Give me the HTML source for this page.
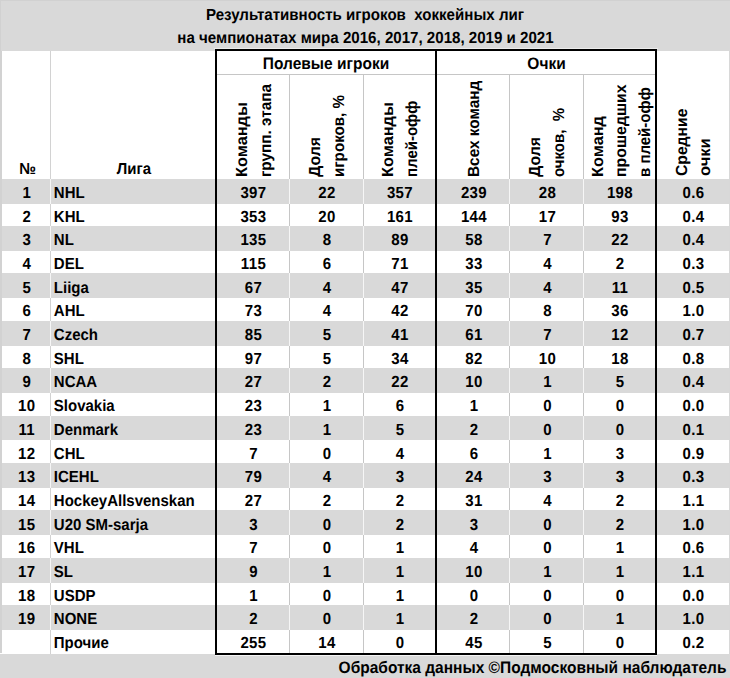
<!DOCTYPE html>
<html><head><meta charset="utf-8"><style>
html,body{margin:0;padding:0;background:#fff;}
body{width:730px;height:678px;position:relative;overflow:hidden;}
div{position:absolute;}
.t{text-rendering:geometricPrecision;font-family:"Liberation Sans",sans-serif;font-weight:bold;color:#000;white-space:pre;}
.r{transform-origin:0 0;transform:rotate(-90deg);font-size:15px;}
</style></head><body>
<div style="left:0px;top:0px;width:730px;height:51px;background:#d9d9d9;"></div>
<div class="t" style="left:0px;top:5.67px;width:730px;text-align:center;font-size:15.1px;line-height:20px;transform:scaleY(1.07);transform-origin:50% 15.23px;">Результативность игроков&nbsp; хоккейных лиг</div>
<div class="t" style="left:0.5px;top:28.57px;width:730px;text-align:center;font-size:15.1px;line-height:20px;transform:scaleY(1.07);transform-origin:50% 15.23px;">на чемпионатах мира 2016, 2017, 2018, 2019 и 2021</div>
<div style="left:0px;top:179px;width:730px;height:25px;background:#d9d9d9;"></div>
<div style="left:0px;top:226px;width:730px;height:25px;background:#d9d9d9;"></div>
<div style="left:0px;top:273px;width:730px;height:25px;background:#d9d9d9;"></div>
<div style="left:0px;top:321px;width:730px;height:25px;background:#d9d9d9;"></div>
<div style="left:0px;top:368px;width:730px;height:25px;background:#d9d9d9;"></div>
<div style="left:0px;top:416px;width:730px;height:24px;background:#d9d9d9;"></div>
<div style="left:0px;top:463px;width:730px;height:25px;background:#d9d9d9;"></div>
<div style="left:0px;top:510px;width:730px;height:25px;background:#d9d9d9;"></div>
<div style="left:0px;top:558px;width:730px;height:25px;background:#d9d9d9;"></div>
<div style="left:0px;top:605px;width:730px;height:25px;background:#d9d9d9;"></div>
<div style="left:0px;top:654px;width:730px;height:24px;background:#d9d9d9;"></div>
<div style="left:0px;top:51px;width:2px;height:602.0px;background:#d2d2d2;"></div>
<div style="left:50px;top:51px;width:1px;height:603.0px;background:#d2d2d2;"></div>
<div style="left:729px;top:51px;width:1px;height:603px;background:#d8d8d8;"></div>
<div style="left:289px;top:75px;width:1px;height:578.0px;background:#c6c6c6;"></div>
<div style="left:363px;top:75px;width:1px;height:578.0px;background:#c6c6c6;"></div>
<div style="left:509px;top:75px;width:1px;height:578.0px;background:#c6c6c6;"></div>
<div style="left:583px;top:75px;width:1px;height:578.0px;background:#c6c6c6;"></div>
<div style="left:217px;top:74px;width:218px;height:1px;background:#c6c6c6;"></div>
<div style="left:437px;top:74px;width:218px;height:1px;background:#c6c6c6;"></div>
<div style="left:50px;top:179px;width:1px;height:25px;background:#f6f6f6;"></div>
<div style="left:289px;top:179px;width:1px;height:25px;background:#f6f6f6;"></div>
<div style="left:363px;top:179px;width:1px;height:25px;background:#f6f6f6;"></div>
<div style="left:509px;top:179px;width:1px;height:25px;background:#f6f6f6;"></div>
<div style="left:583px;top:179px;width:1px;height:25px;background:#f6f6f6;"></div>
<div style="left:50px;top:226px;width:1px;height:25px;background:#f6f6f6;"></div>
<div style="left:289px;top:226px;width:1px;height:25px;background:#f6f6f6;"></div>
<div style="left:363px;top:226px;width:1px;height:25px;background:#f6f6f6;"></div>
<div style="left:509px;top:226px;width:1px;height:25px;background:#f6f6f6;"></div>
<div style="left:583px;top:226px;width:1px;height:25px;background:#f6f6f6;"></div>
<div style="left:50px;top:273px;width:1px;height:25px;background:#f6f6f6;"></div>
<div style="left:289px;top:273px;width:1px;height:25px;background:#f6f6f6;"></div>
<div style="left:363px;top:273px;width:1px;height:25px;background:#f6f6f6;"></div>
<div style="left:509px;top:273px;width:1px;height:25px;background:#f6f6f6;"></div>
<div style="left:583px;top:273px;width:1px;height:25px;background:#f6f6f6;"></div>
<div style="left:50px;top:321px;width:1px;height:25px;background:#f6f6f6;"></div>
<div style="left:289px;top:321px;width:1px;height:25px;background:#f6f6f6;"></div>
<div style="left:363px;top:321px;width:1px;height:25px;background:#f6f6f6;"></div>
<div style="left:509px;top:321px;width:1px;height:25px;background:#f6f6f6;"></div>
<div style="left:583px;top:321px;width:1px;height:25px;background:#f6f6f6;"></div>
<div style="left:50px;top:368px;width:1px;height:25px;background:#f6f6f6;"></div>
<div style="left:289px;top:368px;width:1px;height:25px;background:#f6f6f6;"></div>
<div style="left:363px;top:368px;width:1px;height:25px;background:#f6f6f6;"></div>
<div style="left:509px;top:368px;width:1px;height:25px;background:#f6f6f6;"></div>
<div style="left:583px;top:368px;width:1px;height:25px;background:#f6f6f6;"></div>
<div style="left:50px;top:416px;width:1px;height:24px;background:#f6f6f6;"></div>
<div style="left:289px;top:416px;width:1px;height:24px;background:#f6f6f6;"></div>
<div style="left:363px;top:416px;width:1px;height:24px;background:#f6f6f6;"></div>
<div style="left:509px;top:416px;width:1px;height:24px;background:#f6f6f6;"></div>
<div style="left:583px;top:416px;width:1px;height:24px;background:#f6f6f6;"></div>
<div style="left:50px;top:463px;width:1px;height:25px;background:#f6f6f6;"></div>
<div style="left:289px;top:463px;width:1px;height:25px;background:#f6f6f6;"></div>
<div style="left:363px;top:463px;width:1px;height:25px;background:#f6f6f6;"></div>
<div style="left:509px;top:463px;width:1px;height:25px;background:#f6f6f6;"></div>
<div style="left:583px;top:463px;width:1px;height:25px;background:#f6f6f6;"></div>
<div style="left:50px;top:510px;width:1px;height:25px;background:#f6f6f6;"></div>
<div style="left:289px;top:510px;width:1px;height:25px;background:#f6f6f6;"></div>
<div style="left:363px;top:510px;width:1px;height:25px;background:#f6f6f6;"></div>
<div style="left:509px;top:510px;width:1px;height:25px;background:#f6f6f6;"></div>
<div style="left:583px;top:510px;width:1px;height:25px;background:#f6f6f6;"></div>
<div style="left:50px;top:558px;width:1px;height:25px;background:#f6f6f6;"></div>
<div style="left:289px;top:558px;width:1px;height:25px;background:#f6f6f6;"></div>
<div style="left:363px;top:558px;width:1px;height:25px;background:#f6f6f6;"></div>
<div style="left:509px;top:558px;width:1px;height:25px;background:#f6f6f6;"></div>
<div style="left:583px;top:558px;width:1px;height:25px;background:#f6f6f6;"></div>
<div style="left:50px;top:605px;width:1px;height:25px;background:#f6f6f6;"></div>
<div style="left:289px;top:605px;width:1px;height:25px;background:#f6f6f6;"></div>
<div style="left:363px;top:605px;width:1px;height:25px;background:#f6f6f6;"></div>
<div style="left:509px;top:605px;width:1px;height:25px;background:#f6f6f6;"></div>
<div style="left:583px;top:605px;width:1px;height:25px;background:#f6f6f6;"></div>
<div style="left:0px;top:0px;width:730px;height:1px;background:#d1d1d1;"></div>
<div style="left:0px;top:0px;width:1px;height:51px;background:#d1d1d1;"></div>
<div style="left:214px;top:48px;width:444px;height:1px;background:#ececec;"></div>
<div style="left:215px;top:49px;width:222px;height:2px;background:#000;"></div>
<div style="left:215px;top:653px;width:222px;height:2px;background:#000;"></div>
<div style="left:215px;top:655px;width:222px;height:1px;background:#f4f4f4;"></div>
<div style="left:215px;top:49px;width:2px;height:606px;background:#000;"></div>
<div style="left:435px;top:49px;width:2px;height:606px;background:#000;"></div>
<div style="left:435px;top:49px;width:222px;height:2px;background:#000;"></div>
<div style="left:435px;top:653px;width:222px;height:2px;background:#000;"></div>
<div style="left:435px;top:655px;width:222px;height:1px;background:#f4f4f4;"></div>
<div style="left:435px;top:49px;width:2px;height:606px;background:#000;"></div>
<div style="left:655px;top:49px;width:2px;height:606px;background:#000;"></div>
<div class="t" style="left:3.1px;top:183.80px;width:47.4px;text-align:center;font-size:15px;line-height:20px;transform:scaleY(1.07);transform-origin:50% 15.20px;letter-spacing:0.4px;">1</div>
<div class="t" style="left:53.8px;top:183.80px;width:160px;text-align:left;font-size:15px;line-height:20px;transform:scaleY(1.07);transform-origin:50% 15.20px;">NHL</div>
<div class="t" style="left:217.5px;top:183.80px;width:72px;text-align:center;font-size:15px;line-height:20px;transform:scaleY(1.07);transform-origin:50% 15.20px;letter-spacing:0.4px;">397</div>
<div class="t" style="left:290.5px;top:183.80px;width:73px;text-align:center;font-size:15px;line-height:20px;transform:scaleY(1.07);transform-origin:50% 15.20px;letter-spacing:0.4px;">22</div>
<div class="t" style="left:364.5px;top:183.80px;width:71px;text-align:center;font-size:15px;line-height:20px;transform:scaleY(1.07);transform-origin:50% 15.20px;letter-spacing:0.4px;">357</div>
<div class="t" style="left:437.5px;top:183.80px;width:73px;text-align:center;font-size:15px;line-height:20px;transform:scaleY(1.07);transform-origin:50% 15.20px;letter-spacing:0.4px;">239</div>
<div class="t" style="left:511.5px;top:183.80px;width:72px;text-align:center;font-size:15px;line-height:20px;transform:scaleY(1.07);transform-origin:50% 15.20px;letter-spacing:0.4px;">28</div>
<div class="t" style="left:584.5px;top:183.80px;width:71px;text-align:center;font-size:15px;line-height:20px;transform:scaleY(1.07);transform-origin:50% 15.20px;letter-spacing:0.4px;">198</div>
<div class="t" style="left:657.5px;top:183.80px;width:72px;text-align:center;font-size:15px;line-height:20px;transform:scaleY(1.07);transform-origin:50% 15.20px;letter-spacing:0.4px;">0.6</div>
<div class="t" style="left:3.1px;top:207.50px;width:47.4px;text-align:center;font-size:15px;line-height:20px;transform:scaleY(1.07);transform-origin:50% 15.20px;letter-spacing:0.4px;">2</div>
<div class="t" style="left:53.8px;top:207.50px;width:160px;text-align:left;font-size:15px;line-height:20px;transform:scaleY(1.07);transform-origin:50% 15.20px;">KHL</div>
<div class="t" style="left:217.5px;top:207.50px;width:72px;text-align:center;font-size:15px;line-height:20px;transform:scaleY(1.07);transform-origin:50% 15.20px;letter-spacing:0.4px;">353</div>
<div class="t" style="left:290.5px;top:207.50px;width:73px;text-align:center;font-size:15px;line-height:20px;transform:scaleY(1.07);transform-origin:50% 15.20px;letter-spacing:0.4px;">20</div>
<div class="t" style="left:364.5px;top:207.50px;width:71px;text-align:center;font-size:15px;line-height:20px;transform:scaleY(1.07);transform-origin:50% 15.20px;letter-spacing:0.4px;">161</div>
<div class="t" style="left:437.5px;top:207.50px;width:73px;text-align:center;font-size:15px;line-height:20px;transform:scaleY(1.07);transform-origin:50% 15.20px;letter-spacing:0.4px;">144</div>
<div class="t" style="left:511.5px;top:207.50px;width:72px;text-align:center;font-size:15px;line-height:20px;transform:scaleY(1.07);transform-origin:50% 15.20px;letter-spacing:0.4px;">17</div>
<div class="t" style="left:584.5px;top:207.50px;width:71px;text-align:center;font-size:15px;line-height:20px;transform:scaleY(1.07);transform-origin:50% 15.20px;letter-spacing:0.4px;">93</div>
<div class="t" style="left:657.5px;top:207.50px;width:72px;text-align:center;font-size:15px;line-height:20px;transform:scaleY(1.07);transform-origin:50% 15.20px;letter-spacing:0.4px;">0.4</div>
<div class="t" style="left:3.1px;top:231.20px;width:47.4px;text-align:center;font-size:15px;line-height:20px;transform:scaleY(1.07);transform-origin:50% 15.20px;letter-spacing:0.4px;">3</div>
<div class="t" style="left:53.8px;top:231.20px;width:160px;text-align:left;font-size:15px;line-height:20px;transform:scaleY(1.07);transform-origin:50% 15.20px;">NL</div>
<div class="t" style="left:217.5px;top:231.20px;width:72px;text-align:center;font-size:15px;line-height:20px;transform:scaleY(1.07);transform-origin:50% 15.20px;letter-spacing:0.4px;">135</div>
<div class="t" style="left:290.5px;top:231.20px;width:73px;text-align:center;font-size:15px;line-height:20px;transform:scaleY(1.07);transform-origin:50% 15.20px;letter-spacing:0.4px;">8</div>
<div class="t" style="left:364.5px;top:231.20px;width:71px;text-align:center;font-size:15px;line-height:20px;transform:scaleY(1.07);transform-origin:50% 15.20px;letter-spacing:0.4px;">89</div>
<div class="t" style="left:437.5px;top:231.20px;width:73px;text-align:center;font-size:15px;line-height:20px;transform:scaleY(1.07);transform-origin:50% 15.20px;letter-spacing:0.4px;">58</div>
<div class="t" style="left:511.5px;top:231.20px;width:72px;text-align:center;font-size:15px;line-height:20px;transform:scaleY(1.07);transform-origin:50% 15.20px;letter-spacing:0.4px;">7</div>
<div class="t" style="left:584.5px;top:231.20px;width:71px;text-align:center;font-size:15px;line-height:20px;transform:scaleY(1.07);transform-origin:50% 15.20px;letter-spacing:0.4px;">22</div>
<div class="t" style="left:657.5px;top:231.20px;width:72px;text-align:center;font-size:15px;line-height:20px;transform:scaleY(1.07);transform-origin:50% 15.20px;letter-spacing:0.4px;">0.4</div>
<div class="t" style="left:3.1px;top:254.90px;width:47.4px;text-align:center;font-size:15px;line-height:20px;transform:scaleY(1.07);transform-origin:50% 15.20px;letter-spacing:0.4px;">4</div>
<div class="t" style="left:53.8px;top:254.90px;width:160px;text-align:left;font-size:15px;line-height:20px;transform:scaleY(1.07);transform-origin:50% 15.20px;">DEL</div>
<div class="t" style="left:217.5px;top:254.90px;width:72px;text-align:center;font-size:15px;line-height:20px;transform:scaleY(1.07);transform-origin:50% 15.20px;letter-spacing:0.4px;">115</div>
<div class="t" style="left:290.5px;top:254.90px;width:73px;text-align:center;font-size:15px;line-height:20px;transform:scaleY(1.07);transform-origin:50% 15.20px;letter-spacing:0.4px;">6</div>
<div class="t" style="left:364.5px;top:254.90px;width:71px;text-align:center;font-size:15px;line-height:20px;transform:scaleY(1.07);transform-origin:50% 15.20px;letter-spacing:0.4px;">71</div>
<div class="t" style="left:437.5px;top:254.90px;width:73px;text-align:center;font-size:15px;line-height:20px;transform:scaleY(1.07);transform-origin:50% 15.20px;letter-spacing:0.4px;">33</div>
<div class="t" style="left:511.5px;top:254.90px;width:72px;text-align:center;font-size:15px;line-height:20px;transform:scaleY(1.07);transform-origin:50% 15.20px;letter-spacing:0.4px;">4</div>
<div class="t" style="left:584.5px;top:254.90px;width:71px;text-align:center;font-size:15px;line-height:20px;transform:scaleY(1.07);transform-origin:50% 15.20px;letter-spacing:0.4px;">2</div>
<div class="t" style="left:657.5px;top:254.90px;width:72px;text-align:center;font-size:15px;line-height:20px;transform:scaleY(1.07);transform-origin:50% 15.20px;letter-spacing:0.4px;">0.3</div>
<div class="t" style="left:3.1px;top:278.60px;width:47.4px;text-align:center;font-size:15px;line-height:20px;transform:scaleY(1.07);transform-origin:50% 15.20px;letter-spacing:0.4px;">5</div>
<div class="t" style="left:53.8px;top:278.60px;width:160px;text-align:left;font-size:15px;line-height:20px;transform:scaleY(1.07);transform-origin:50% 15.20px;">Liiga</div>
<div class="t" style="left:217.5px;top:278.60px;width:72px;text-align:center;font-size:15px;line-height:20px;transform:scaleY(1.07);transform-origin:50% 15.20px;letter-spacing:0.4px;">67</div>
<div class="t" style="left:290.5px;top:278.60px;width:73px;text-align:center;font-size:15px;line-height:20px;transform:scaleY(1.07);transform-origin:50% 15.20px;letter-spacing:0.4px;">4</div>
<div class="t" style="left:364.5px;top:278.60px;width:71px;text-align:center;font-size:15px;line-height:20px;transform:scaleY(1.07);transform-origin:50% 15.20px;letter-spacing:0.4px;">47</div>
<div class="t" style="left:437.5px;top:278.60px;width:73px;text-align:center;font-size:15px;line-height:20px;transform:scaleY(1.07);transform-origin:50% 15.20px;letter-spacing:0.4px;">35</div>
<div class="t" style="left:511.5px;top:278.60px;width:72px;text-align:center;font-size:15px;line-height:20px;transform:scaleY(1.07);transform-origin:50% 15.20px;letter-spacing:0.4px;">4</div>
<div class="t" style="left:584.5px;top:278.60px;width:71px;text-align:center;font-size:15px;line-height:20px;transform:scaleY(1.07);transform-origin:50% 15.20px;letter-spacing:0.4px;">11</div>
<div class="t" style="left:657.5px;top:278.60px;width:72px;text-align:center;font-size:15px;line-height:20px;transform:scaleY(1.07);transform-origin:50% 15.20px;letter-spacing:0.4px;">0.5</div>
<div class="t" style="left:3.1px;top:302.30px;width:47.4px;text-align:center;font-size:15px;line-height:20px;transform:scaleY(1.07);transform-origin:50% 15.20px;letter-spacing:0.4px;">6</div>
<div class="t" style="left:53.8px;top:302.30px;width:160px;text-align:left;font-size:15px;line-height:20px;transform:scaleY(1.07);transform-origin:50% 15.20px;">AHL</div>
<div class="t" style="left:217.5px;top:302.30px;width:72px;text-align:center;font-size:15px;line-height:20px;transform:scaleY(1.07);transform-origin:50% 15.20px;letter-spacing:0.4px;">73</div>
<div class="t" style="left:290.5px;top:302.30px;width:73px;text-align:center;font-size:15px;line-height:20px;transform:scaleY(1.07);transform-origin:50% 15.20px;letter-spacing:0.4px;">4</div>
<div class="t" style="left:364.5px;top:302.30px;width:71px;text-align:center;font-size:15px;line-height:20px;transform:scaleY(1.07);transform-origin:50% 15.20px;letter-spacing:0.4px;">42</div>
<div class="t" style="left:437.5px;top:302.30px;width:73px;text-align:center;font-size:15px;line-height:20px;transform:scaleY(1.07);transform-origin:50% 15.20px;letter-spacing:0.4px;">70</div>
<div class="t" style="left:511.5px;top:302.30px;width:72px;text-align:center;font-size:15px;line-height:20px;transform:scaleY(1.07);transform-origin:50% 15.20px;letter-spacing:0.4px;">8</div>
<div class="t" style="left:584.5px;top:302.30px;width:71px;text-align:center;font-size:15px;line-height:20px;transform:scaleY(1.07);transform-origin:50% 15.20px;letter-spacing:0.4px;">36</div>
<div class="t" style="left:657.5px;top:302.30px;width:72px;text-align:center;font-size:15px;line-height:20px;transform:scaleY(1.07);transform-origin:50% 15.20px;letter-spacing:0.4px;">1.0</div>
<div class="t" style="left:3.1px;top:326.00px;width:47.4px;text-align:center;font-size:15px;line-height:20px;transform:scaleY(1.07);transform-origin:50% 15.20px;letter-spacing:0.4px;">7</div>
<div class="t" style="left:53.8px;top:326.00px;width:160px;text-align:left;font-size:15px;line-height:20px;transform:scaleY(1.07);transform-origin:50% 15.20px;">Czech</div>
<div class="t" style="left:217.5px;top:326.00px;width:72px;text-align:center;font-size:15px;line-height:20px;transform:scaleY(1.07);transform-origin:50% 15.20px;letter-spacing:0.4px;">85</div>
<div class="t" style="left:290.5px;top:326.00px;width:73px;text-align:center;font-size:15px;line-height:20px;transform:scaleY(1.07);transform-origin:50% 15.20px;letter-spacing:0.4px;">5</div>
<div class="t" style="left:364.5px;top:326.00px;width:71px;text-align:center;font-size:15px;line-height:20px;transform:scaleY(1.07);transform-origin:50% 15.20px;letter-spacing:0.4px;">41</div>
<div class="t" style="left:437.5px;top:326.00px;width:73px;text-align:center;font-size:15px;line-height:20px;transform:scaleY(1.07);transform-origin:50% 15.20px;letter-spacing:0.4px;">61</div>
<div class="t" style="left:511.5px;top:326.00px;width:72px;text-align:center;font-size:15px;line-height:20px;transform:scaleY(1.07);transform-origin:50% 15.20px;letter-spacing:0.4px;">7</div>
<div class="t" style="left:584.5px;top:326.00px;width:71px;text-align:center;font-size:15px;line-height:20px;transform:scaleY(1.07);transform-origin:50% 15.20px;letter-spacing:0.4px;">12</div>
<div class="t" style="left:657.5px;top:326.00px;width:72px;text-align:center;font-size:15px;line-height:20px;transform:scaleY(1.07);transform-origin:50% 15.20px;letter-spacing:0.4px;">0.7</div>
<div class="t" style="left:3.1px;top:349.70px;width:47.4px;text-align:center;font-size:15px;line-height:20px;transform:scaleY(1.07);transform-origin:50% 15.20px;letter-spacing:0.4px;">8</div>
<div class="t" style="left:53.8px;top:349.70px;width:160px;text-align:left;font-size:15px;line-height:20px;transform:scaleY(1.07);transform-origin:50% 15.20px;">SHL</div>
<div class="t" style="left:217.5px;top:349.70px;width:72px;text-align:center;font-size:15px;line-height:20px;transform:scaleY(1.07);transform-origin:50% 15.20px;letter-spacing:0.4px;">97</div>
<div class="t" style="left:290.5px;top:349.70px;width:73px;text-align:center;font-size:15px;line-height:20px;transform:scaleY(1.07);transform-origin:50% 15.20px;letter-spacing:0.4px;">5</div>
<div class="t" style="left:364.5px;top:349.70px;width:71px;text-align:center;font-size:15px;line-height:20px;transform:scaleY(1.07);transform-origin:50% 15.20px;letter-spacing:0.4px;">34</div>
<div class="t" style="left:437.5px;top:349.70px;width:73px;text-align:center;font-size:15px;line-height:20px;transform:scaleY(1.07);transform-origin:50% 15.20px;letter-spacing:0.4px;">82</div>
<div class="t" style="left:511.5px;top:349.70px;width:72px;text-align:center;font-size:15px;line-height:20px;transform:scaleY(1.07);transform-origin:50% 15.20px;letter-spacing:0.4px;">10</div>
<div class="t" style="left:584.5px;top:349.70px;width:71px;text-align:center;font-size:15px;line-height:20px;transform:scaleY(1.07);transform-origin:50% 15.20px;letter-spacing:0.4px;">18</div>
<div class="t" style="left:657.5px;top:349.70px;width:72px;text-align:center;font-size:15px;line-height:20px;transform:scaleY(1.07);transform-origin:50% 15.20px;letter-spacing:0.4px;">0.8</div>
<div class="t" style="left:3.1px;top:373.40px;width:47.4px;text-align:center;font-size:15px;line-height:20px;transform:scaleY(1.07);transform-origin:50% 15.20px;letter-spacing:0.4px;">9</div>
<div class="t" style="left:53.8px;top:373.40px;width:160px;text-align:left;font-size:15px;line-height:20px;transform:scaleY(1.07);transform-origin:50% 15.20px;">NCAA</div>
<div class="t" style="left:217.5px;top:373.40px;width:72px;text-align:center;font-size:15px;line-height:20px;transform:scaleY(1.07);transform-origin:50% 15.20px;letter-spacing:0.4px;">27</div>
<div class="t" style="left:290.5px;top:373.40px;width:73px;text-align:center;font-size:15px;line-height:20px;transform:scaleY(1.07);transform-origin:50% 15.20px;letter-spacing:0.4px;">2</div>
<div class="t" style="left:364.5px;top:373.40px;width:71px;text-align:center;font-size:15px;line-height:20px;transform:scaleY(1.07);transform-origin:50% 15.20px;letter-spacing:0.4px;">22</div>
<div class="t" style="left:437.5px;top:373.40px;width:73px;text-align:center;font-size:15px;line-height:20px;transform:scaleY(1.07);transform-origin:50% 15.20px;letter-spacing:0.4px;">10</div>
<div class="t" style="left:511.5px;top:373.40px;width:72px;text-align:center;font-size:15px;line-height:20px;transform:scaleY(1.07);transform-origin:50% 15.20px;letter-spacing:0.4px;">1</div>
<div class="t" style="left:584.5px;top:373.40px;width:71px;text-align:center;font-size:15px;line-height:20px;transform:scaleY(1.07);transform-origin:50% 15.20px;letter-spacing:0.4px;">5</div>
<div class="t" style="left:657.5px;top:373.40px;width:72px;text-align:center;font-size:15px;line-height:20px;transform:scaleY(1.07);transform-origin:50% 15.20px;letter-spacing:0.4px;">0.4</div>
<div class="t" style="left:3.1px;top:397.10px;width:47.4px;text-align:center;font-size:15px;line-height:20px;transform:scaleY(1.07);transform-origin:50% 15.20px;letter-spacing:0.4px;">10</div>
<div class="t" style="left:53.8px;top:397.10px;width:160px;text-align:left;font-size:15px;line-height:20px;transform:scaleY(1.07);transform-origin:50% 15.20px;">Slovakia</div>
<div class="t" style="left:217.5px;top:397.10px;width:72px;text-align:center;font-size:15px;line-height:20px;transform:scaleY(1.07);transform-origin:50% 15.20px;letter-spacing:0.4px;">23</div>
<div class="t" style="left:290.5px;top:397.10px;width:73px;text-align:center;font-size:15px;line-height:20px;transform:scaleY(1.07);transform-origin:50% 15.20px;letter-spacing:0.4px;">1</div>
<div class="t" style="left:364.5px;top:397.10px;width:71px;text-align:center;font-size:15px;line-height:20px;transform:scaleY(1.07);transform-origin:50% 15.20px;letter-spacing:0.4px;">6</div>
<div class="t" style="left:437.5px;top:397.10px;width:73px;text-align:center;font-size:15px;line-height:20px;transform:scaleY(1.07);transform-origin:50% 15.20px;letter-spacing:0.4px;">1</div>
<div class="t" style="left:511.5px;top:397.10px;width:72px;text-align:center;font-size:15px;line-height:20px;transform:scaleY(1.07);transform-origin:50% 15.20px;letter-spacing:0.4px;">0</div>
<div class="t" style="left:584.5px;top:397.10px;width:71px;text-align:center;font-size:15px;line-height:20px;transform:scaleY(1.07);transform-origin:50% 15.20px;letter-spacing:0.4px;">0</div>
<div class="t" style="left:657.5px;top:397.10px;width:72px;text-align:center;font-size:15px;line-height:20px;transform:scaleY(1.07);transform-origin:50% 15.20px;letter-spacing:0.4px;">0.0</div>
<div class="t" style="left:3.1px;top:420.80px;width:47.4px;text-align:center;font-size:15px;line-height:20px;transform:scaleY(1.07);transform-origin:50% 15.20px;letter-spacing:0.4px;">11</div>
<div class="t" style="left:53.8px;top:420.80px;width:160px;text-align:left;font-size:15px;line-height:20px;transform:scaleY(1.07);transform-origin:50% 15.20px;">Denmark</div>
<div class="t" style="left:217.5px;top:420.80px;width:72px;text-align:center;font-size:15px;line-height:20px;transform:scaleY(1.07);transform-origin:50% 15.20px;letter-spacing:0.4px;">23</div>
<div class="t" style="left:290.5px;top:420.80px;width:73px;text-align:center;font-size:15px;line-height:20px;transform:scaleY(1.07);transform-origin:50% 15.20px;letter-spacing:0.4px;">1</div>
<div class="t" style="left:364.5px;top:420.80px;width:71px;text-align:center;font-size:15px;line-height:20px;transform:scaleY(1.07);transform-origin:50% 15.20px;letter-spacing:0.4px;">5</div>
<div class="t" style="left:437.5px;top:420.80px;width:73px;text-align:center;font-size:15px;line-height:20px;transform:scaleY(1.07);transform-origin:50% 15.20px;letter-spacing:0.4px;">2</div>
<div class="t" style="left:511.5px;top:420.80px;width:72px;text-align:center;font-size:15px;line-height:20px;transform:scaleY(1.07);transform-origin:50% 15.20px;letter-spacing:0.4px;">0</div>
<div class="t" style="left:584.5px;top:420.80px;width:71px;text-align:center;font-size:15px;line-height:20px;transform:scaleY(1.07);transform-origin:50% 15.20px;letter-spacing:0.4px;">0</div>
<div class="t" style="left:657.5px;top:420.80px;width:72px;text-align:center;font-size:15px;line-height:20px;transform:scaleY(1.07);transform-origin:50% 15.20px;letter-spacing:0.4px;">0.1</div>
<div class="t" style="left:3.1px;top:444.50px;width:47.4px;text-align:center;font-size:15px;line-height:20px;transform:scaleY(1.07);transform-origin:50% 15.20px;letter-spacing:0.4px;">12</div>
<div class="t" style="left:53.8px;top:444.50px;width:160px;text-align:left;font-size:15px;line-height:20px;transform:scaleY(1.07);transform-origin:50% 15.20px;">CHL</div>
<div class="t" style="left:217.5px;top:444.50px;width:72px;text-align:center;font-size:15px;line-height:20px;transform:scaleY(1.07);transform-origin:50% 15.20px;letter-spacing:0.4px;">7</div>
<div class="t" style="left:290.5px;top:444.50px;width:73px;text-align:center;font-size:15px;line-height:20px;transform:scaleY(1.07);transform-origin:50% 15.20px;letter-spacing:0.4px;">0</div>
<div class="t" style="left:364.5px;top:444.50px;width:71px;text-align:center;font-size:15px;line-height:20px;transform:scaleY(1.07);transform-origin:50% 15.20px;letter-spacing:0.4px;">4</div>
<div class="t" style="left:437.5px;top:444.50px;width:73px;text-align:center;font-size:15px;line-height:20px;transform:scaleY(1.07);transform-origin:50% 15.20px;letter-spacing:0.4px;">6</div>
<div class="t" style="left:511.5px;top:444.50px;width:72px;text-align:center;font-size:15px;line-height:20px;transform:scaleY(1.07);transform-origin:50% 15.20px;letter-spacing:0.4px;">1</div>
<div class="t" style="left:584.5px;top:444.50px;width:71px;text-align:center;font-size:15px;line-height:20px;transform:scaleY(1.07);transform-origin:50% 15.20px;letter-spacing:0.4px;">3</div>
<div class="t" style="left:657.5px;top:444.50px;width:72px;text-align:center;font-size:15px;line-height:20px;transform:scaleY(1.07);transform-origin:50% 15.20px;letter-spacing:0.4px;">0.9</div>
<div class="t" style="left:3.1px;top:468.20px;width:47.4px;text-align:center;font-size:15px;line-height:20px;transform:scaleY(1.07);transform-origin:50% 15.20px;letter-spacing:0.4px;">13</div>
<div class="t" style="left:53.8px;top:468.20px;width:160px;text-align:left;font-size:15px;line-height:20px;transform:scaleY(1.07);transform-origin:50% 15.20px;">ICEHL</div>
<div class="t" style="left:217.5px;top:468.20px;width:72px;text-align:center;font-size:15px;line-height:20px;transform:scaleY(1.07);transform-origin:50% 15.20px;letter-spacing:0.4px;">79</div>
<div class="t" style="left:290.5px;top:468.20px;width:73px;text-align:center;font-size:15px;line-height:20px;transform:scaleY(1.07);transform-origin:50% 15.20px;letter-spacing:0.4px;">4</div>
<div class="t" style="left:364.5px;top:468.20px;width:71px;text-align:center;font-size:15px;line-height:20px;transform:scaleY(1.07);transform-origin:50% 15.20px;letter-spacing:0.4px;">3</div>
<div class="t" style="left:437.5px;top:468.20px;width:73px;text-align:center;font-size:15px;line-height:20px;transform:scaleY(1.07);transform-origin:50% 15.20px;letter-spacing:0.4px;">24</div>
<div class="t" style="left:511.5px;top:468.20px;width:72px;text-align:center;font-size:15px;line-height:20px;transform:scaleY(1.07);transform-origin:50% 15.20px;letter-spacing:0.4px;">3</div>
<div class="t" style="left:584.5px;top:468.20px;width:71px;text-align:center;font-size:15px;line-height:20px;transform:scaleY(1.07);transform-origin:50% 15.20px;letter-spacing:0.4px;">3</div>
<div class="t" style="left:657.5px;top:468.20px;width:72px;text-align:center;font-size:15px;line-height:20px;transform:scaleY(1.07);transform-origin:50% 15.20px;letter-spacing:0.4px;">0.3</div>
<div class="t" style="left:3.1px;top:491.90px;width:47.4px;text-align:center;font-size:15px;line-height:20px;transform:scaleY(1.07);transform-origin:50% 15.20px;letter-spacing:0.4px;">14</div>
<div class="t" style="left:53.8px;top:491.90px;width:160px;text-align:left;font-size:15px;line-height:20px;transform:scaleY(1.07);transform-origin:50% 15.20px;">HockeyAllsvenskan</div>
<div class="t" style="left:217.5px;top:491.90px;width:72px;text-align:center;font-size:15px;line-height:20px;transform:scaleY(1.07);transform-origin:50% 15.20px;letter-spacing:0.4px;">27</div>
<div class="t" style="left:290.5px;top:491.90px;width:73px;text-align:center;font-size:15px;line-height:20px;transform:scaleY(1.07);transform-origin:50% 15.20px;letter-spacing:0.4px;">2</div>
<div class="t" style="left:364.5px;top:491.90px;width:71px;text-align:center;font-size:15px;line-height:20px;transform:scaleY(1.07);transform-origin:50% 15.20px;letter-spacing:0.4px;">2</div>
<div class="t" style="left:437.5px;top:491.90px;width:73px;text-align:center;font-size:15px;line-height:20px;transform:scaleY(1.07);transform-origin:50% 15.20px;letter-spacing:0.4px;">31</div>
<div class="t" style="left:511.5px;top:491.90px;width:72px;text-align:center;font-size:15px;line-height:20px;transform:scaleY(1.07);transform-origin:50% 15.20px;letter-spacing:0.4px;">4</div>
<div class="t" style="left:584.5px;top:491.90px;width:71px;text-align:center;font-size:15px;line-height:20px;transform:scaleY(1.07);transform-origin:50% 15.20px;letter-spacing:0.4px;">2</div>
<div class="t" style="left:657.5px;top:491.90px;width:72px;text-align:center;font-size:15px;line-height:20px;transform:scaleY(1.07);transform-origin:50% 15.20px;letter-spacing:0.4px;">1.1</div>
<div class="t" style="left:3.1px;top:515.60px;width:47.4px;text-align:center;font-size:15px;line-height:20px;transform:scaleY(1.07);transform-origin:50% 15.20px;letter-spacing:0.4px;">15</div>
<div class="t" style="left:53.8px;top:515.60px;width:160px;text-align:left;font-size:15px;line-height:20px;transform:scaleY(1.07);transform-origin:50% 15.20px;">U20 SM-sarja</div>
<div class="t" style="left:217.5px;top:515.60px;width:72px;text-align:center;font-size:15px;line-height:20px;transform:scaleY(1.07);transform-origin:50% 15.20px;letter-spacing:0.4px;">3</div>
<div class="t" style="left:290.5px;top:515.60px;width:73px;text-align:center;font-size:15px;line-height:20px;transform:scaleY(1.07);transform-origin:50% 15.20px;letter-spacing:0.4px;">0</div>
<div class="t" style="left:364.5px;top:515.60px;width:71px;text-align:center;font-size:15px;line-height:20px;transform:scaleY(1.07);transform-origin:50% 15.20px;letter-spacing:0.4px;">2</div>
<div class="t" style="left:437.5px;top:515.60px;width:73px;text-align:center;font-size:15px;line-height:20px;transform:scaleY(1.07);transform-origin:50% 15.20px;letter-spacing:0.4px;">3</div>
<div class="t" style="left:511.5px;top:515.60px;width:72px;text-align:center;font-size:15px;line-height:20px;transform:scaleY(1.07);transform-origin:50% 15.20px;letter-spacing:0.4px;">0</div>
<div class="t" style="left:584.5px;top:515.60px;width:71px;text-align:center;font-size:15px;line-height:20px;transform:scaleY(1.07);transform-origin:50% 15.20px;letter-spacing:0.4px;">2</div>
<div class="t" style="left:657.5px;top:515.60px;width:72px;text-align:center;font-size:15px;line-height:20px;transform:scaleY(1.07);transform-origin:50% 15.20px;letter-spacing:0.4px;">1.0</div>
<div class="t" style="left:3.1px;top:539.30px;width:47.4px;text-align:center;font-size:15px;line-height:20px;transform:scaleY(1.07);transform-origin:50% 15.20px;letter-spacing:0.4px;">16</div>
<div class="t" style="left:53.8px;top:539.30px;width:160px;text-align:left;font-size:15px;line-height:20px;transform:scaleY(1.07);transform-origin:50% 15.20px;">VHL</div>
<div class="t" style="left:217.5px;top:539.30px;width:72px;text-align:center;font-size:15px;line-height:20px;transform:scaleY(1.07);transform-origin:50% 15.20px;letter-spacing:0.4px;">7</div>
<div class="t" style="left:290.5px;top:539.30px;width:73px;text-align:center;font-size:15px;line-height:20px;transform:scaleY(1.07);transform-origin:50% 15.20px;letter-spacing:0.4px;">0</div>
<div class="t" style="left:364.5px;top:539.30px;width:71px;text-align:center;font-size:15px;line-height:20px;transform:scaleY(1.07);transform-origin:50% 15.20px;letter-spacing:0.4px;">1</div>
<div class="t" style="left:437.5px;top:539.30px;width:73px;text-align:center;font-size:15px;line-height:20px;transform:scaleY(1.07);transform-origin:50% 15.20px;letter-spacing:0.4px;">4</div>
<div class="t" style="left:511.5px;top:539.30px;width:72px;text-align:center;font-size:15px;line-height:20px;transform:scaleY(1.07);transform-origin:50% 15.20px;letter-spacing:0.4px;">0</div>
<div class="t" style="left:584.5px;top:539.30px;width:71px;text-align:center;font-size:15px;line-height:20px;transform:scaleY(1.07);transform-origin:50% 15.20px;letter-spacing:0.4px;">1</div>
<div class="t" style="left:657.5px;top:539.30px;width:72px;text-align:center;font-size:15px;line-height:20px;transform:scaleY(1.07);transform-origin:50% 15.20px;letter-spacing:0.4px;">0.6</div>
<div class="t" style="left:3.1px;top:563.00px;width:47.4px;text-align:center;font-size:15px;line-height:20px;transform:scaleY(1.07);transform-origin:50% 15.20px;letter-spacing:0.4px;">17</div>
<div class="t" style="left:53.8px;top:563.00px;width:160px;text-align:left;font-size:15px;line-height:20px;transform:scaleY(1.07);transform-origin:50% 15.20px;">SL</div>
<div class="t" style="left:217.5px;top:563.00px;width:72px;text-align:center;font-size:15px;line-height:20px;transform:scaleY(1.07);transform-origin:50% 15.20px;letter-spacing:0.4px;">9</div>
<div class="t" style="left:290.5px;top:563.00px;width:73px;text-align:center;font-size:15px;line-height:20px;transform:scaleY(1.07);transform-origin:50% 15.20px;letter-spacing:0.4px;">1</div>
<div class="t" style="left:364.5px;top:563.00px;width:71px;text-align:center;font-size:15px;line-height:20px;transform:scaleY(1.07);transform-origin:50% 15.20px;letter-spacing:0.4px;">1</div>
<div class="t" style="left:437.5px;top:563.00px;width:73px;text-align:center;font-size:15px;line-height:20px;transform:scaleY(1.07);transform-origin:50% 15.20px;letter-spacing:0.4px;">10</div>
<div class="t" style="left:511.5px;top:563.00px;width:72px;text-align:center;font-size:15px;line-height:20px;transform:scaleY(1.07);transform-origin:50% 15.20px;letter-spacing:0.4px;">1</div>
<div class="t" style="left:584.5px;top:563.00px;width:71px;text-align:center;font-size:15px;line-height:20px;transform:scaleY(1.07);transform-origin:50% 15.20px;letter-spacing:0.4px;">1</div>
<div class="t" style="left:657.5px;top:563.00px;width:72px;text-align:center;font-size:15px;line-height:20px;transform:scaleY(1.07);transform-origin:50% 15.20px;letter-spacing:0.4px;">1.1</div>
<div class="t" style="left:3.1px;top:586.70px;width:47.4px;text-align:center;font-size:15px;line-height:20px;transform:scaleY(1.07);transform-origin:50% 15.20px;letter-spacing:0.4px;">18</div>
<div class="t" style="left:53.8px;top:586.70px;width:160px;text-align:left;font-size:15px;line-height:20px;transform:scaleY(1.07);transform-origin:50% 15.20px;">USDP</div>
<div class="t" style="left:217.5px;top:586.70px;width:72px;text-align:center;font-size:15px;line-height:20px;transform:scaleY(1.07);transform-origin:50% 15.20px;letter-spacing:0.4px;">1</div>
<div class="t" style="left:290.5px;top:586.70px;width:73px;text-align:center;font-size:15px;line-height:20px;transform:scaleY(1.07);transform-origin:50% 15.20px;letter-spacing:0.4px;">0</div>
<div class="t" style="left:364.5px;top:586.70px;width:71px;text-align:center;font-size:15px;line-height:20px;transform:scaleY(1.07);transform-origin:50% 15.20px;letter-spacing:0.4px;">1</div>
<div class="t" style="left:437.5px;top:586.70px;width:73px;text-align:center;font-size:15px;line-height:20px;transform:scaleY(1.07);transform-origin:50% 15.20px;letter-spacing:0.4px;">0</div>
<div class="t" style="left:511.5px;top:586.70px;width:72px;text-align:center;font-size:15px;line-height:20px;transform:scaleY(1.07);transform-origin:50% 15.20px;letter-spacing:0.4px;">0</div>
<div class="t" style="left:584.5px;top:586.70px;width:71px;text-align:center;font-size:15px;line-height:20px;transform:scaleY(1.07);transform-origin:50% 15.20px;letter-spacing:0.4px;">0</div>
<div class="t" style="left:657.5px;top:586.70px;width:72px;text-align:center;font-size:15px;line-height:20px;transform:scaleY(1.07);transform-origin:50% 15.20px;letter-spacing:0.4px;">0.0</div>
<div class="t" style="left:3.1px;top:610.40px;width:47.4px;text-align:center;font-size:15px;line-height:20px;transform:scaleY(1.07);transform-origin:50% 15.20px;letter-spacing:0.4px;">19</div>
<div class="t" style="left:53.8px;top:610.40px;width:160px;text-align:left;font-size:15px;line-height:20px;transform:scaleY(1.07);transform-origin:50% 15.20px;">NONE</div>
<div class="t" style="left:217.5px;top:610.40px;width:72px;text-align:center;font-size:15px;line-height:20px;transform:scaleY(1.07);transform-origin:50% 15.20px;letter-spacing:0.4px;">2</div>
<div class="t" style="left:290.5px;top:610.40px;width:73px;text-align:center;font-size:15px;line-height:20px;transform:scaleY(1.07);transform-origin:50% 15.20px;letter-spacing:0.4px;">0</div>
<div class="t" style="left:364.5px;top:610.40px;width:71px;text-align:center;font-size:15px;line-height:20px;transform:scaleY(1.07);transform-origin:50% 15.20px;letter-spacing:0.4px;">1</div>
<div class="t" style="left:437.5px;top:610.40px;width:73px;text-align:center;font-size:15px;line-height:20px;transform:scaleY(1.07);transform-origin:50% 15.20px;letter-spacing:0.4px;">2</div>
<div class="t" style="left:511.5px;top:610.40px;width:72px;text-align:center;font-size:15px;line-height:20px;transform:scaleY(1.07);transform-origin:50% 15.20px;letter-spacing:0.4px;">0</div>
<div class="t" style="left:584.5px;top:610.40px;width:71px;text-align:center;font-size:15px;line-height:20px;transform:scaleY(1.07);transform-origin:50% 15.20px;letter-spacing:0.4px;">1</div>
<div class="t" style="left:657.5px;top:610.40px;width:72px;text-align:center;font-size:15px;line-height:20px;transform:scaleY(1.07);transform-origin:50% 15.20px;letter-spacing:0.4px;">1.0</div>
<div class="t" style="left:3.1px;top:634.10px;width:47.4px;text-align:center;font-size:15px;line-height:20px;transform:scaleY(1.07);transform-origin:50% 15.20px;letter-spacing:0.4px;"></div>
<div class="t" style="left:53.8px;top:634.10px;width:160px;text-align:left;font-size:15px;line-height:20px;transform:scaleY(1.07);transform-origin:50% 15.20px;">Прочие</div>
<div class="t" style="left:217.5px;top:634.10px;width:72px;text-align:center;font-size:15px;line-height:20px;transform:scaleY(1.07);transform-origin:50% 15.20px;letter-spacing:0.4px;">255</div>
<div class="t" style="left:290.5px;top:634.10px;width:73px;text-align:center;font-size:15px;line-height:20px;transform:scaleY(1.07);transform-origin:50% 15.20px;letter-spacing:0.4px;">14</div>
<div class="t" style="left:364.5px;top:634.10px;width:71px;text-align:center;font-size:15px;line-height:20px;transform:scaleY(1.07);transform-origin:50% 15.20px;letter-spacing:0.4px;">0</div>
<div class="t" style="left:437.5px;top:634.10px;width:73px;text-align:center;font-size:15px;line-height:20px;transform:scaleY(1.07);transform-origin:50% 15.20px;letter-spacing:0.4px;">45</div>
<div class="t" style="left:511.5px;top:634.10px;width:72px;text-align:center;font-size:15px;line-height:20px;transform:scaleY(1.07);transform-origin:50% 15.20px;letter-spacing:0.4px;">5</div>
<div class="t" style="left:584.5px;top:634.10px;width:71px;text-align:center;font-size:15px;line-height:20px;transform:scaleY(1.07);transform-origin:50% 15.20px;letter-spacing:0.4px;">0</div>
<div class="t" style="left:657.5px;top:634.10px;width:72px;text-align:center;font-size:15px;line-height:20px;transform:scaleY(1.07);transform-origin:50% 15.20px;letter-spacing:0.4px;">0.2</div>
<div class="t" style="left:217px;top:55.13px;width:218px;text-align:center;font-size:15.5px;line-height:20px;transform:scaleY(1.07);transform-origin:50% 15.37px;">Полевые игроки</div>
<div class="t" style="left:437.5px;top:55.13px;width:218px;text-align:center;font-size:15.5px;line-height:20px;transform:scaleY(1.07);transform-origin:50% 15.37px;">Очки</div>
<div class="t" style="left:2.6px;top:159.80px;width:50px;text-align:center;font-size:15px;line-height:20px;transform:scaleY(1.07);transform-origin:50% 15.20px;">№</div>
<div class="t" style="left:51.5px;top:159.80px;width:165px;text-align:center;font-size:15px;line-height:20px;transform:scaleY(1.07);transform-origin:50% 15.20px;">Лига</div>
<div class="t" style="left:0px;top:658.63px;width:726.5px;text-align:right;font-size:15.5px;line-height:20px;transform:scaleY(1.07);transform-origin:50% 15.37px;">Обработка данных ©Подмосковный наблюдатель</div>
<div class="t r" style="left:232.10px;top:177.00px;line-height:20px;transform:rotate(-90deg) scale(1.09,1.07);">Команды</div>
<div class="t r" style="left:255.50px;top:177.00px;line-height:20px;transform:rotate(-90deg) scale(1.02,1.07);">групп. этапа</div>
<div class="t r" style="left:305.00px;top:177.00px;line-height:20px;transform:rotate(-90deg) scale(1.05,1.07);">Доля</div>
<div class="t r" style="left:328.80px;top:177.00px;line-height:20px;transform:rotate(-90deg) scale(1.01,1.07);">игроков, %</div>
<div class="t r" style="left:378.30px;top:177.00px;line-height:20px;transform:rotate(-90deg) scale(1.09,1.07);">Команды</div>
<div class="t r" style="left:402.10px;top:177.00px;line-height:20px;transform:rotate(-90deg) scale(1.0,1.07);">плей-офф</div>
<div class="t r" style="left:463.90px;top:177.00px;line-height:20px;transform:rotate(-90deg) scale(1.025,1.07);">Всех команд</div>
<div class="t r" style="left:525.00px;top:177.00px;line-height:20px;transform:rotate(-90deg) scale(1.05,1.07);">Доля</div>
<div class="t r" style="left:548.80px;top:177.00px;line-height:20px;transform:rotate(-90deg) scale(1.0,1.07);">очков,&nbsp; %</div>
<div class="t r" style="left:588.20px;top:177.00px;line-height:20px;transform:rotate(-90deg) scale(1.09,1.07);">Команд</div>
<div class="t r" style="left:611.30px;top:177.00px;line-height:20px;transform:rotate(-90deg) scale(1.055,1.07);">прошедших</div>
<div class="t r" style="left:635.20px;top:177.00px;line-height:20px;transform:rotate(-90deg) scale(1.0,1.07);">в плей-офф</div>
<div class="t r" style="left:672.10px;top:175.50px;line-height:20px;transform:rotate(-90deg) scale(1.045,1.07);">Средние</div>
<div class="t r" style="left:695.10px;top:175.50px;line-height:20px;transform:rotate(-90deg) scale(1.1,1.07);">очки</div>
</body></html>
